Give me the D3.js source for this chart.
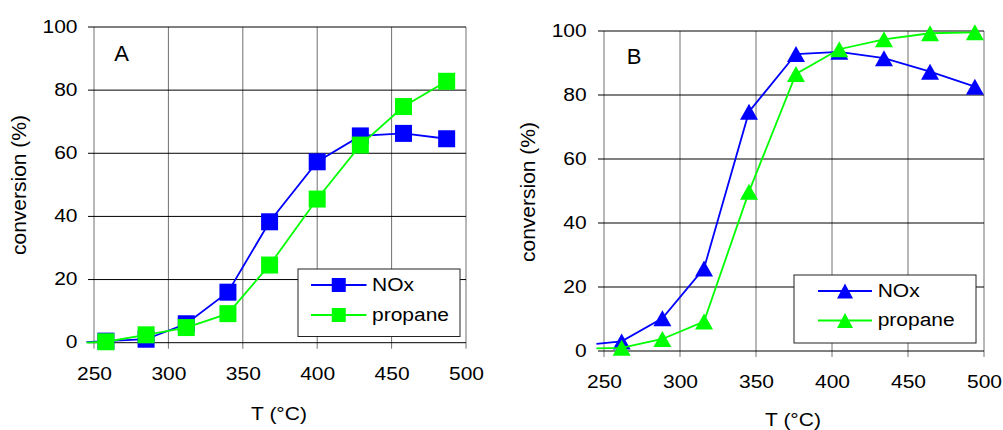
<!DOCTYPE html>
<html>
<head>
<meta charset="utf-8">
<script src="https://cdn.jsdelivr.net/npm/d3@7"></script>
<style>
  html, body { margin: 0; padding: 0; background: #fff; }
  svg { display: block; }
  text { font-family: "Liberation Sans", Arial, sans-serif; fill: #000; }
</style>
</head>
<body>
<svg id="chart" width="1003" height="430"></svg>
<script>
// ---------- data ----------
const xTicks = [250, 300, 350, 400, 450, 500];
const yTicks = [0, 20, 40, 60, 80, 100];
const seriesNames = ["NOx", "propane"];
const panelLabels = ["A", "B"];
const xTitle = "T (°C)";
const yTitle = "conversion (%)";

const tempA    = [245, 258, 285, 312, 340, 368, 400, 429, 458, 487];
const noxA     = [0.2, 0.5, 1.1, 6.0, 16.0, 38.3, 57.3, 65.5, 66.3, 64.6];
const propaneA = [0.0, 0.3, 2.5, 4.8, 9.2, 24.6, 45.5, 62.6, 74.8, 82.8];

const tempB    = [245, 261.6, 288.4, 315.8, 345.4, 376.3, 404.8, 434.2, 464.5, 494];
const noxB     = [2.2, 3.0, 10.2, 25.8, 74.8, 92.8, 93.5, 91.5, 87.3, 82.6];
const propaneB = [0.8, 1.0, 3.75, 9.2, 49.8, 86.6, 94.3, 97.4, 99.3, 99.6];

const colors = ["#0000ff", "#00ff00"];

// ---------- drawing ----------
const svg = d3.select("#chart");
const SY = 0.85; // vertical squash of the horizontal texts

function squareMarker(sel, s) {
  sel.append("rect").attr("x", -s / 2).attr("y", -s / 2).attr("width", s).attr("height", s);
}
function triangleMarker(sel, w, h) {
  sel.append("path").attr("d", `M0,${-h / 2}L${w / 2},${h / 2}L${-w / 2},${h / 2}Z`);
}

function drawPanel(cfg) {
  const g = svg.append("g");
  const x = d3.scaleLinear().domain([250, 500]).range([cfg.left, cfg.right]);
  const y = d3.scaleLinear().domain([0, 100]).range([cfg.bottom, cfg.top]);

  // vertical grid lines (also outward x ticks)
  g.append("g").selectAll("line").data(xTicks).join("line")
    .attr("x1", d => x(d)).attr("x2", d => x(d))
    .attr("y1", cfg.top).attr("y2", cfg.bottom + 6)
    .attr("stroke", "#707070").attr("stroke-width", 1);
  // horizontal grid lines (also outward y ticks)
  g.append("g").selectAll("line").data(yTicks).join("line")
    .attr("x1", cfg.left - 6).attr("x2", cfg.right)
    .attr("y1", d => y(d)).attr("y2", d => y(d))
    .attr("stroke", "#000").attr("stroke-width", 1);

  // y axis labels
  const yAxis = g.append("g").attr("transform", `translate(${cfg.left},0)`)
    .call(d3.axisLeft(y).tickValues(yTicks).tickSize(0).tickPadding(0));
  yAxis.select(".domain").remove();
  yAxis.selectAll("text")
    .attr("x", cfg.yLabelOff).attr("dy", "0.28em")
    .attr("transform", `scale(1,${SY})`)
    .style("font-size", "21px").style("font-family", '"Liberation Sans", Arial, sans-serif')
    .attr("fill", "#000");

  // x axis labels
  const xAxis = g.append("g").attr("transform", `translate(0,${cfg.bottom})`)
    .call(d3.axisBottom(x).tickValues(xTicks).tickSize(0).tickPadding(0));
  xAxis.select(".domain").remove();
  xAxis.selectAll("text")
    .attr("y", 0).attr("dy", 0)
    .attr("transform", `translate(0,${cfg.xLabelOff}) scale(1,${SY})`)
    .style("font-size", "21px").style("font-family", '"Liberation Sans", Arial, sans-serif')
    .attr("fill", "#000");

  // axis titles
  g.append("text")
    .attr("transform", `translate(${cfg.xTitleX},${cfg.xTitleY}) scale(1,${SY})`)
    .attr("text-anchor", "middle").style("font-size", "21px").text(xTitle);
  g.append("text")
    .attr("transform", `translate(${cfg.yTitleX},${cfg.yTitleY}) rotate(-90)`)
    .attr("text-anchor", "middle").style("font-size", "21px").text(yTitle);

  // panel label
  g.append("text").attr("x", cfg.labelX).attr("y", cfg.labelY)
    .attr("text-anchor", "middle").style("font-size", "22px").text(cfg.label);

  // series
  const line = d3.line().x(d => x(d[0])).y(d => y(d[1]));
  cfg.series.forEach((vals, i) => {
    const pts = cfg.temps.map((t, j) => [t, vals[j]]);
    const sg = g.append("g");
    sg.append("path").attr("d", line(pts)).attr("fill", "none")
      .attr("stroke", colors[i]).attr("stroke-width", 1.8);
    sg.selectAll("g.m").data(pts.filter(p => p[0] >= 250)).join("g")
      .attr("class", "m").attr("fill", colors[i])
      .attr("transform", p => `translate(${x(p[0])},${y(p[1])})`)
      .each(function () {
        if (cfg.marker === "square") squareMarker(d3.select(this), 17);
        else triangleMarker(d3.select(this), 18, 16);
      });
  });

  // legend
  const L = cfg.legend;
  const lg = g.append("g");
  lg.append("rect").attr("x", L.x).attr("y", L.y).attr("width", L.w).attr("height", L.h)
    .attr("fill", "#fff").attr("stroke", "#222").attr("stroke-width", 1);
  seriesNames.forEach((name, i) => {
    const ly = L.rows[i];
    lg.append("line").attr("x1", L.lx1).attr("x2", L.lx2).attr("y1", ly).attr("y2", ly)
      .attr("stroke", colors[i]).attr("stroke-width", 1.8);
    const mg = lg.append("g").attr("fill", colors[i])
      .attr("transform", `translate(${(L.lx1 + L.lx2) / 2},${ly})`);
    if (cfg.marker === "square") squareMarker(mg, 14);
    else triangleMarker(mg, 16, 15);
    lg.append("text")
      .attr("transform", `translate(${L.tx},${ly + L.tdy}) scale(1,${SY})`)
      .style("font-size", "21px").text(name);
  });
}

drawPanel({
  left: 94, right: 466, top: 27, bottom: 342.7,
  yLabelOff: -16.5, xLabelOff: 37.3,
  xTitleX: 279, xTitleY: 420, yTitleX: 26, yTitleY: 185,
  label: panelLabels[0], labelX: 121.7, labelY: 61,
  temps: tempA, series: [noxA, propaneA], marker: "square",
  legend: { x: 298, y: 269, w: 162, h: 67.5, lx1: 311, lx2: 366.5, rows: [285, 315], tx: 372, tdy: 5.5 }
});

drawPanel({
  left: 604, right: 984, top: 31, bottom: 351,
  yLabelOff: -17.3, xLabelOff: 37,
  xTitleX: 793, xTitleY: 425.5, yTitleX: 535, yTitleY: 192,
  label: panelLabels[1], labelX: 634, labelY: 64.3,
  temps: tempB, series: [noxB, propaneB], marker: "triangle",
  legend: { x: 794, y: 275, w: 182, h: 68, lx1: 818, lx2: 872, rows: [291, 320.5], tx: 877.7, tdy: 5.5 }
});
</script>
</body>
</html>
